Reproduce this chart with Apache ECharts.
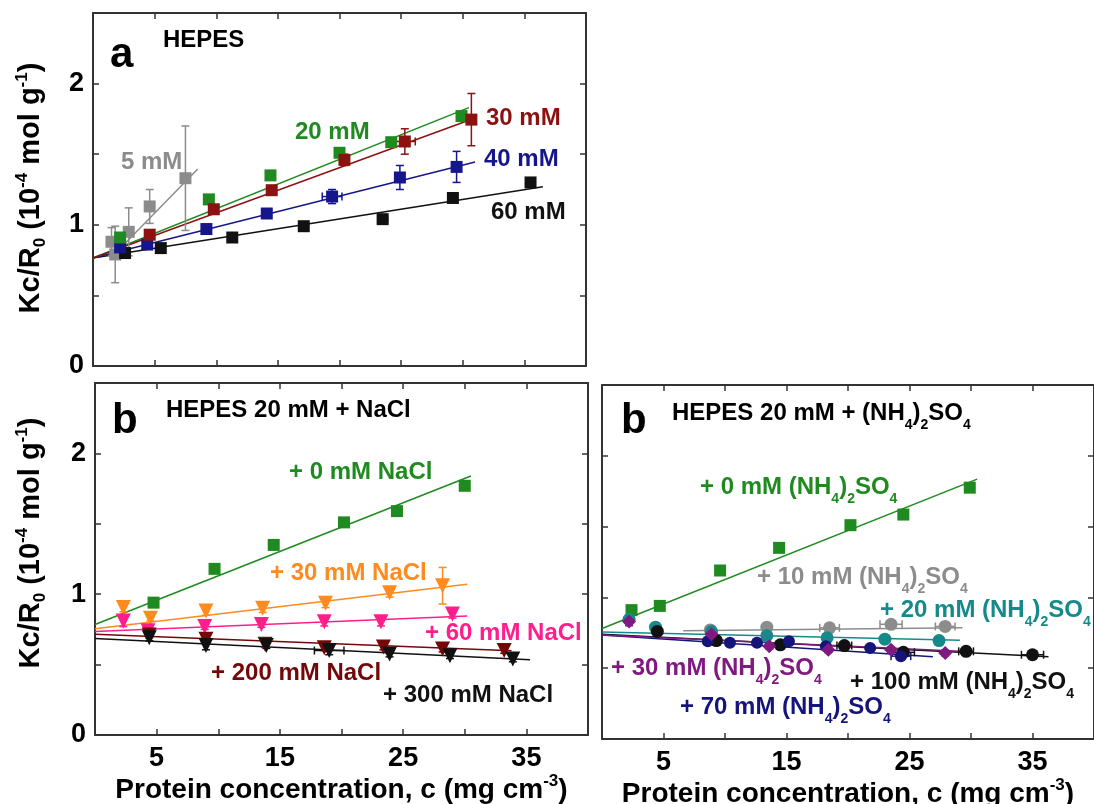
<!DOCTYPE html>
<html><head><meta charset="utf-8">
<script src="https://cdn.jsdelivr.net/npm/echarts@6/dist/echarts.min.js"></script>
<style>html,body{margin:0;padding:0;background:#fff}#c{width:1094px;height:804px}</style>
</head><body><div id="c"></div><script>
// ---------------- DATA ----------------
// each point: [c (mg cm^-3), Kc/R0 (1e-4 mol/g), yErr, xErr]
const xTickLabels = [5, 15, 25, 35];
const yTickLabels = [0, 1, 2];

// Panel a : HEPES
const a_5mM  = [[1.5,0.88,0.10,0],[1.8,0.79,0.20,0],[2.9,0.95,0.17,0],[4.6,1.13,0.12,0],[7.5,1.33,0.37,0]];
const a_20mM = [[2.2,0.91,0.03,0],[9.4,1.18,0.03,0],[14.4,1.35,0.03,0],[20.0,1.51,0.03,0],[24.2,1.585,0.03,0],[29.9,1.77,0.03,0]];
const a_30mM = [[4.6,0.93,0.03,0],[9.8,1.11,0.03,0],[14.5,1.245,0.03,0],[20.4,1.46,0.04,0],[25.3,1.59,0.09,0.85],[30.7,1.745,0.185,0]];
const a_40mM = [[2.2,0.84,0.02,0],[4.4,0.86,0.02,0],[9.2,0.97,0.03,0],[14.1,1.08,0.03,0],[19.4,1.20,0.05,0.8],[24.9,1.335,0.085,0],[29.5,1.41,0.11,0]];
const a_60mM = [[2.6,0.80,0.03,0],[5.5,0.835,0.02,0],[11.3,0.91,0.02,0],[17.1,0.99,0.03,0],[23.5,1.04,0.03,0.4],[29.2,1.19,0.02,0],[35.5,1.30,0.02,0]];
const a_fit5  = [[1.5,0.77],[8.5,1.395]];
const a_fit20 = [[0,0.765],[30.5,1.83]];
const a_fit30 = [[0,0.765],[30.5,1.74]];
const a_fit40 = [[0,0.765],[31,1.445]];
const a_fit60 = [[0,0.765],[36.5,1.27]];

// Panel b (left): HEPES 20 mM + NaCl
const n_0   = [[4.75,0.94,0.02,0],[9.7,1.18,0.03,0],[14.5,1.35,0.02,0],[20.2,1.51,0.03,0],[24.5,1.59,0.02,0],[30.0,1.77,0.03,0]];
const n_30  = [[2.3,0.905,0.03,0],[4.5,0.83,0.02,0],[9.0,0.88,0.03,0],[13.6,0.90,0.03,0],[18.7,0.935,0.03,0],[23.9,1.01,0.03,0],[28.2,1.06,0.13,0]];
const n_60  = [[2.3,0.81,0.04,0],[4.3,0.74,0.02,0],[8.9,0.77,0.02,0],[13.5,0.785,0.02,0],[18.6,0.805,0.03,0],[23.2,0.805,0.03,0],[29.0,0.86,0.03,0]];
const n_200 = [[4.4,0.71,0.02,0],[9.0,0.68,0.02,0],[13.8,0.645,0.02,0],[18.6,0.62,0.02,0],[23.4,0.625,0.02,0],[28.2,0.61,0.02,0],[33.2,0.60,0.02,0]];
const n_300 = [[4.4,0.69,0.02,0],[9.0,0.635,0.03,0],[13.9,0.635,0.02,0],[19.0,0.60,0.03,1.2],[23.9,0.575,0.02,0],[28.8,0.563,0.02,0],[33.9,0.54,0.02,0]];
const n_fit0   = [[0,0.785],[30.5,1.84]];
const n_fit30  = [[0,0.755],[30.2,1.07]];
const n_fit60  = [[0,0.735],[30.2,0.845]];
const n_fit200 = [[0,0.715],[33.8,0.598]];
const n_fit300 = [[0,0.685],[35.3,0.535]];

// Panel b (right): HEPES 20 mM + (NH4)2SO4
const s_0   = [[2.4,0.91,0.02,0],[4.7,0.94,0.03,0],[9.6,1.19,0.03,0],[14.4,1.35,0.02,0],[20.2,1.51,0.03,0],[24.5,1.585,0.03,0],[29.9,1.775,0.03,0]];
const s_10  = [[8.8,0.77,0.02,0],[13.4,0.79,0.02,0],[18.5,0.785,0.02,0.8],[23.5,0.81,0.02,0.9],[27.9,0.795,0.02,0.8]];
const s_20  = [[2.2,0.845,0.02,0],[4.35,0.79,0.02,0],[8.9,0.76,0.02,0],[13.4,0.73,0.02,0],[18.3,0.715,0.02,0],[23.0,0.705,0.02,0],[27.4,0.695,0.02,0]];
const s_30  = [[2.2,0.83,0.03,0],[8.9,0.74,0.02,0],[13.6,0.655,0.02,0],[18.4,0.63,0.02,0],[23.5,0.63,0.02,0],[27.9,0.607,0.02,0]];
const s_70  = [[8.6,0.69,0.02,0],[10.4,0.68,0.02,0],[12.6,0.68,0.02,0],[15.2,0.69,0.02,0],[18.2,0.655,0.02,0],[21.8,0.642,0.02,0],[24.3,0.585,0.02,0.8]];
const s_100 = [[4.5,0.76,0.02,0],[9.3,0.695,0.02,0],[14.5,0.665,0.02,0],[19.7,0.66,0.02,0.6],[24.5,0.612,0.02,0.9],[29.6,0.619,0.02,0.6],[35.0,0.595,0.02,0.9]];
const s_fit0   = [[0,0.78],[30.5,1.835]];
const s_fit10  = [[6.6,0.765],[29.3,0.785]];
const s_fit20  = [[0,0.755],[29.1,0.697]];
const s_fit30  = [[0,0.735],[29.1,0.62]];
const s_fit70  = [[0,0.735],[26.9,0.58]];
const s_fit100 = [[0,0.74],[36.3,0.58]];

// ---------------- STYLE ----------------
const FF = '"Liberation Sans", Arial, sans-serif';
const C = {
  green:'#1f8a1f', red:'#8c1212', blue:'#16168c', black:'#111111', gray:'#8c8c8c',
  orange:'#ff8a1e', pink:'#ff1e8c', dred:'#740808', teal:'#168a8a', purple:'#801a80', navy:'#14147a'
};
const AX = '#333';

function richTok(size, color, useFill) {
  const base = { fontSize:size, fontWeight:'bold', fontFamily:FF };
  const sub = Math.round(size*0.6);
  const k = useFill ? 'fill' : 'color';
  const o = {
    m:   Object.assign({}, base, {lineHeight:size+14, verticalAlign:'middle'}),
    ms:  Object.assign({}, base, {lineHeight:size+6, verticalAlign:'middle'}),
    sub: Object.assign({}, base, {fontSize:sub, lineHeight:sub, verticalAlign:'bottom'}),
    sup: Object.assign({}, base, {fontSize:sub, lineHeight:sub, verticalAlign:'top'})
  };
  if (color) for (const t in o) o[t][k] = color;
  return o;
}

function xAxes(gi, showLabels, nameGap) {
  const common = {
    gridIndex:gi, type:'value', min:0, max:40, interval:5,
    axisLine:{show:true, onZero:false, lineStyle:{color:AX, width:2}},
    axisTick:{show:true, inside:true, length:6, lineStyle:{color:AX, width:1.5}},
    splitLine:{show:false}
  };
  const bottom = Object.assign({}, common, {
    position:'bottom',
    axisLabel:{show:showLabels, margin:10, color:'#000', fontSize:27, fontWeight:'bold', fontFamily:FF,
      formatter: v => xTickLabels.indexOf(v) >= 0 ? String(v) : ''}
  });
  if (showLabels) {
    Object.assign(bottom, {
      name:'{ms|Protein concentration, c (mg cm}{sup|-3}{ms|)}',
      nameLocation:'middle', nameGap:nameGap,
      nameTextStyle:{ rich: richTok(28, '#000', false) }
    });
  }
  const top = Object.assign({}, common, {position:'top', axisLabel:{show:false}});
  return [bottom, top];
}
function yAxes(gi, showLabels) {
  const common = {
    gridIndex:gi, type:'value', min:0, max:2.5, interval:0.5,
    axisLine:{show:true, onZero:false, lineStyle:{color:AX, width:2}},
    axisTick:{show:true, inside:true, length:6, lineStyle:{color:AX, width:1.5}},
    splitLine:{show:false}
  };
  const left = Object.assign({}, common, {position:'left',
    axisLabel:{show:showLabels, margin:9, color:'#000', fontSize:27, fontWeight:'bold', fontFamily:FF,
      formatter: v => yTickLabels.indexOf(v) >= 0 ? String(v) : ''}});
  const right = Object.assign({}, common, {position:'right', axisLabel:{show:false}});
  return [left, right];
}

const series = [];
function addSet(gi, data, fitLine, color, symbol, size, rot) {
  const ax = gi*2;
  if (fitLine) series.push({type:'line', xAxisIndex:ax, yAxisIndex:ax, data:fitLine, symbol:'none',
    lineStyle:{color:color, width:1.5}, z:2, silent:true, animation:false});
  series.push({type:'custom', xAxisIndex:ax, yAxisIndex:ax, data:data, z:3, silent:true, animation:false,
    encode:{x:0, y:1},
    renderItem: function(params, api) {
      const cx = api.value(0), cy = api.value(1), ey = api.value(2), ex = api.value(3);
      const ch = [];
      const st = {stroke:color, lineWidth:1.5};
      if (ey > 0) {
        const p1 = api.coord([cx, cy+ey]), p2 = api.coord([cx, cy-ey]);
        ch.push({type:'line', shape:{x1:p1[0],y1:p1[1],x2:p2[0],y2:p2[1]}, style:st});
        ch.push({type:'line', shape:{x1:p1[0]-4,y1:p1[1],x2:p1[0]+4,y2:p1[1]}, style:st});
        ch.push({type:'line', shape:{x1:p2[0]-4,y1:p2[1],x2:p2[0]+4,y2:p2[1]}, style:st});
      }
      if (ex > 0) {
        const p1 = api.coord([cx-ex, cy]), p2 = api.coord([cx+ex, cy]);
        ch.push({type:'line', shape:{x1:p1[0],y1:p1[1],x2:p2[0],y2:p2[1]}, style:st});
        ch.push({type:'line', shape:{x1:p1[0],y1:p1[1]-4,x2:p1[0],y2:p1[1]+4}, style:st});
        ch.push({type:'line', shape:{x1:p2[0],y1:p2[1]-4,x2:p2[0],y2:p2[1]+4}, style:st});
      }
      return {type:'group', children:ch};
    }});
  series.push({type:'scatter', xAxisIndex:ax, yAxisIndex:ax, data:data.map(d => [d[0], d[1]]),
    symbol:symbol, symbolSize:size, symbolRotate:rot||0, itemStyle:{color:color, opacity:1}, z:4, animation:false});
}

// panel a
addSet(0, a_5mM,  a_fit5,  C.gray,  'rect', 12);
addSet(0, a_60mM, a_fit60, C.black, 'rect', 12);
addSet(0, a_40mM, a_fit40, C.blue,  'rect', 12);
addSet(0, a_20mM, a_fit20, C.green, 'rect', 12);
addSet(0, a_30mM, a_fit30, C.red,   'rect', 12);
// panel b left
addSet(1, n_0,   n_fit0,   C.green,  'rect', 12);
addSet(1, n_30,  n_fit30,  C.orange, 'triangle', 15, 180);
addSet(1, n_60,  n_fit60,  C.pink,   'triangle', 15, 180);
addSet(1, n_200, n_fit200, C.dred,   'triangle', 15, 180);
addSet(1, n_300, n_fit300, C.black,  'triangle', 15, 180);
// panel b right
addSet(2, s_0,   s_fit0,   C.green,  'rect', 12);
addSet(2, s_10,  s_fit10,  C.gray,   'circle', 13);
addSet(2, s_20,  s_fit20,  C.teal,   'circle', 13);
addSet(2, s_100, s_fit100, C.black,  'circle', 13);
addSet(2, s_70,  s_fit70,  C.navy,   'circle', 12);
addSet(2, s_30,  s_fit30,  C.purple, 'diamond', 14);

// ---------------- TEXT ----------------
function label(x, y, text, color, size) {
  return {type:'text', x:x, y:y, silent:true, z:10,
    style:{text:text, fill:color, align:'left', verticalAlign:'middle',
      fontSize:size||24, fontWeight:'bold', fontFamily:FF, rich: richTok(size||24, color, true)}};
}
const AMS = (pre) => '{m|' + pre + ' (NH}{sub|4}{m|)}{sub|2}{m|SO}{sub|4}';
const yTitle = '{ms|Kc/R}{sub|0}{ms| (10}{sup|-4}{ms| mol g}{sup|-1}{ms|)}';
const graphics = [
  label(110, 55, '{L|a}', '#000', 42),
  label(163, 40, '{m|HEPES}', '#000', 24),
  label(121, 162, '{m|5 mM}', C.gray),
  label(295, 132, '{m|20 mM}', C.green),
  label(486, 118, '{m|30 mM}', C.red),
  label(484, 159, '{m|40 mM}', C.blue),
  label(491, 212, '{m|60 mM}', C.black),

  label(112, 421, '{L|b}', '#000', 42),
  label(166, 410, '{m|HEPES 20 mM + NaCl}', '#000', 24),
  label(289, 472, '{m|+ 0 mM NaCl}', C.green),
  label(270, 573, '{m|+ 30 mM NaCl}', C.orange),
  label(425, 633, '{m|+ 60 mM NaCl}', C.pink),
  label(211, 673, '{m|+ 200 mM NaCl}', C.dred),
  label(383, 695, '{m|+ 300 mM NaCl}', C.black),

  label(621, 421, '{L|b}', '#000', 42),
  label(672, 413, '{m|HEPES 20 mM + (NH}{sub|4}{m|)}{sub|2}{m|SO}{sub|4}', '#000', 24),
  label(700, 487, AMS('+ 0 mM'), C.green),
  label(757, 577, AMS('+ 10 mM'), C.gray),
  label(880, 610, AMS('+ 20 mM'), C.teal),
  label(611, 668, AMS('+ 30 mM'), C.purple),
  label(850, 682, AMS('+ 100 mM'), C.black),
  label(680, 707, AMS('+ 70 mM'), C.navy),

  {type:'text', x:31, y:188, rotation:Math.PI/2, silent:true,
    style:{text:yTitle, fill:'#000', align:'center', verticalAlign:'middle', rich:richTok(29, '#000', true)}},
  {type:'text', x:31, y:543, rotation:Math.PI/2, silent:true,
    style:{text:yTitle, fill:'#000', align:'center', verticalAlign:'middle', rich:richTok(29, '#000', true)}}
];
graphics.forEach(g => { if (g.style.rich) g.style.rich.L = {fontSize:42, fontWeight:'bold', fontFamily:FF, fill:g.style.fill, lineHeight:46}; });

const chart = echarts.init(document.getElementById('c'), null, {renderer:'canvas'});
chart.setOption({
  animation:false,
  backgroundColor:'#ffffff',
  grid:[
    {left:93, top:13, width:493, height:353, outerBoundsMode:'none'},
    {left:95, top:383, width:493, height:352, outerBoundsMode:'none'},
    {left:602, top:385, width:492, height:354, outerBoundsMode:'none'}
  ],
  xAxis:[].concat(xAxes(0,false,0), xAxes(1,true,37), xAxes(2,true,34)),
  yAxis:[].concat(yAxes(0,true), yAxes(1,true), yAxes(2,false)),
  series:series,
  graphic:graphics
});
</script></body></html>
